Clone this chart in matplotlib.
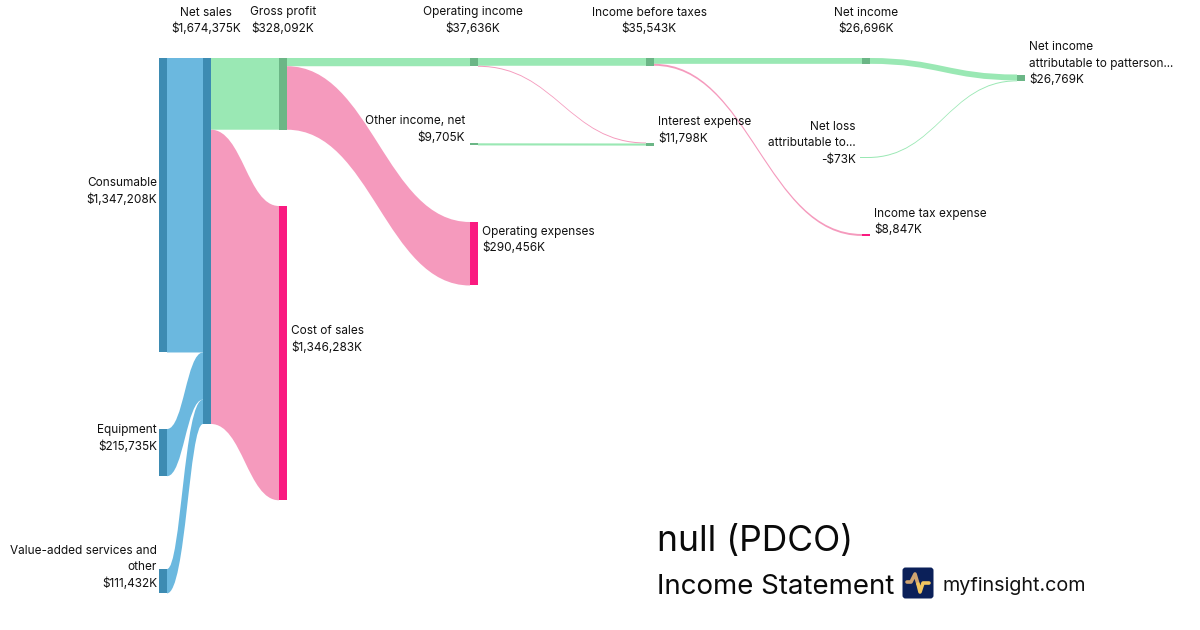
"""
Income statement sankey for PDCO, drawn with plain matplotlib patches.
"""
import matplotlib.pyplot as plt
from matplotlib.patches import FancyBboxPatch, PathPatch, Rectangle
from matplotlib.path import Path

plt.rcParams['font.family'] = ['Inter', 'DejaVu Sans']

# values in $K
consumable = 1347208
equipment = 215735
value_added = 111432
net_sales = 1674375
cost_of_sales = 1346283
gross_profit = 328092
operating_expenses = 290456
operating_income = 37636
other_income = 9705
interest_expense = 11798
income_before_taxes = 35543
income_tax = 8847
net_income = 26696
net_loss = 73
net_income_attr = 26769
interest_from_operations = 2093

PX_PER_K = 366 / net_sales
NODE_W = 8
LINE_H = 16
CURVE = 0.46

BLUE = ('#6bb8df', '#3d8bb2')
GREEN = ('#9ae8b4', '#6bb686')
PINK = ('#f59abd', '#fa1a80')
PALE = ('#9ae8b4', '#9ae8b4')

# name: column x, top y, value, colours
nodes = {
    'consumable': (159, 58, consumable, BLUE),
    'equipment': (159, 429, equipment, BLUE),
    'value_added': (159, 569, value_added, BLUE),
    'net_sales': (203, 58, net_sales, BLUE),
    'gross_profit': (279, 58, gross_profit, GREEN),
    'cost_of_sales': (279, 206, cost_of_sales, PINK),
    'operating_income': (470, 58, operating_income, GREEN),
    'operating_expenses': (470, 222, operating_expenses, PINK),
    'other_income': (470, 143.3, other_income, GREEN),
    'income_before_taxes': (646, 58, income_before_taxes, GREEN),
    'interest_expense': (646, 142.5, interest_expense, GREEN),
    'net_income': (862, 58, net_income, GREEN),
    'income_tax': (862, 234, income_tax, PINK),
    'net_loss': (860, 157, net_loss, PALE),
    'net_income_attr': (1017, 74.5, net_income_attr, GREEN),
}

# source, target, value, colour (order sets the stacking inside a node)
links = [
    ('consumable', 'net_sales', consumable, BLUE),
    ('equipment', 'net_sales', equipment, BLUE),
    ('value_added', 'net_sales', value_added, BLUE),
    ('net_sales', 'gross_profit', gross_profit, GREEN),
    ('net_sales', 'cost_of_sales', cost_of_sales, PINK),
    ('gross_profit', 'operating_income', operating_income, GREEN),
    ('gross_profit', 'operating_expenses', operating_expenses, PINK),
    ('operating_income', 'income_before_taxes', income_before_taxes, GREEN),
    ('operating_income', 'interest_expense', interest_from_operations, PINK),
    ('other_income', 'interest_expense', other_income, GREEN),
    ('income_before_taxes', 'net_income', net_income, GREEN),
    ('income_before_taxes', 'income_tax', income_tax, PINK),
    ('net_income', 'net_income_attr', net_income, GREEN),
    ('net_loss', 'net_income_attr', net_loss, GREEN),
]

# text, x, first line y, horizontal alignment
labels = [
    ('Net sales\n$1,674,375K', 206, 11, 'center'),
    ('Gross profit\n$328,092K', 283, 11, 'center'),
    ('Operating income\n$37,636K', 473, 11, 'center'),
    ('Income before taxes\n$35,543K', 649, 11, 'center'),
    ('Net income\n$26,696K', 866, 11, 'center'),
    ('Net income\nattributable to patterson...\n$26,769K', 1029, 46, 'left'),
    ('Consumable\n$1,347,208K', 157, 182, 'right'),
    ('Equipment\n$215,735K', 157, 429, 'right'),
    ('Value-added services and\nother\n$111,432K', 157, 550, 'right'),
    ('Cost of sales\n$1,346,283K', 291, 330, 'left'),
    ('Other income, net\n$9,705K', 465, 120, 'right'),
    ('Operating expenses\n$290,456K', 482, 230, 'left'),
    ('Interest expense\n$11,798K', 658, 121, 'left'),
    ('Net loss\nattributable to...\n-$73K', 856, 126, 'right'),
    ('Income tax expense\n$8,847K', 874, 212, 'left'),
]


def draw_link(ax, x0, y0, x1, y1, h, color):
    # filled ribbon with horizontal bezier edges
    dx = x1 - x0
    c = CURVE * dx
    # very steep ribbons get their edges pulled apart so they do not pinch
    s = 0.07 * dx if abs(y1 - y0) / dx > 3 else 0
    if y1 > y0:
        s = -s
    verts = [(x0, y0), (x0 + c - s, y0), (x1 - c - s, y1), (x1, y1),
             (x1, y1 + h), (x1 - c + s, y1 + h), (x0 + c + s, y0 + h), (x0, y0 + h), (x0, y0)]
    codes = [Path.MOVETO, Path.CURVE4, Path.CURVE4, Path.CURVE4,
             Path.LINETO, Path.CURVE4, Path.CURVE4, Path.CURVE4, Path.CLOSEPOLY]
    ax.add_patch(PathPatch(Path(verts, codes), facecolor=color, edgecolor='none', zorder=2))


fig = plt.figure(figsize=(12, 6.3), dpi=100)
ax = fig.add_axes([0, 0, 1, 1])
ax.set_xlim(0, 1200)
ax.set_ylim(630, 0)
ax.axis('off')

out_offset = {name: 0 for name in nodes}
in_offset = {name: 0 for name in nodes}
for src, dst, value, colors in links:
    # hairline flows still stay visible
    h = max(value * PX_PER_K, 1)
    x0 = nodes[src][0] + NODE_W
    y0 = nodes[src][1] + out_offset[src]
    x1 = nodes[dst][0]
    y1 = nodes[dst][1] + in_offset[dst]
    out_offset[src] += value * PX_PER_K
    in_offset[dst] += h
    draw_link(ax, x0, y0, x1, y1, h, colors[0])

for name, (x, top, value, colors) in nodes.items():
    height = max(value * PX_PER_K, in_offset[name], 1)
    ax.add_patch(Rectangle((x, top), NODE_W, height,
                           facecolor=colors[1], edgecolor='none', zorder=3))

for text, x, y, ha in labels:
    for i, line in enumerate(text.split('\n')):
        ax.text(x, y + i * LINE_H, line, ha=ha, va='center_baseline', fontsize=8.5,
                color='#111111', zorder=4)

ax.text(657, 538, 'null (PDCO)', fontsize=25.5, color='#0a0a0a', va='center_baseline', ha='left')
ax.text(657, 584, 'Income Statement', fontsize=19.9, color='#0a0a0a', va='center_baseline', ha='left')
ax.text(942, 584, 'myfinsight.com', fontsize=14.2, color='#111111', va='center_baseline', ha='left')

# logo
ax.add_patch(FancyBboxPatch((902.5, 567.5), 31, 31, boxstyle='round,pad=0,rounding_size=3',
                            facecolor='#0b2059', edgecolor='none', zorder=3))
ax.plot([907, 911, 915, 918], [582, 582, 574, 584], color='#d0a470', linewidth=2.6,
        solid_capstyle='round', solid_joinstyle='round', zorder=4)
ax.plot([918, 920, 923, 929], [584, 592, 583, 583], color='#f1c560', linewidth=2.6,
        solid_capstyle='round', solid_joinstyle='round', zorder=4)

fig.savefig('out.png', dpi=100, facecolor='white')
plt.close(fig)
